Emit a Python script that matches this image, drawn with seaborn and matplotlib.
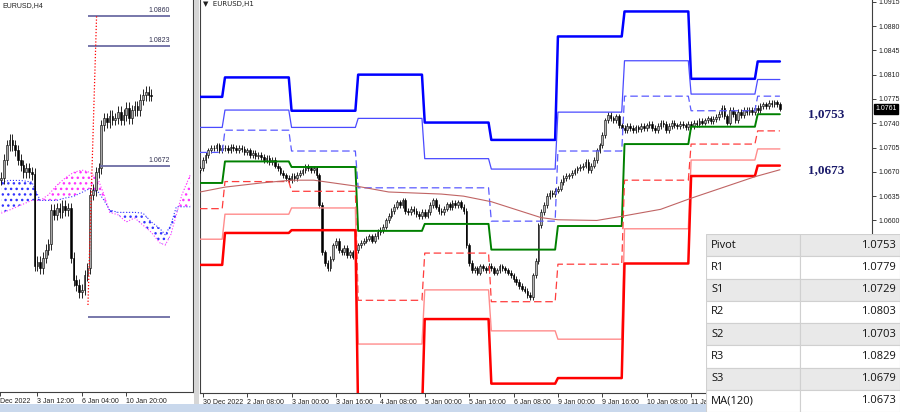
import numpy as np
import pandas as pd
import matplotlib
matplotlib.use("Agg")
import matplotlib.pyplot as plt
import matplotlib.transforms as mtrans
from matplotlib.patches import Rectangle
import seaborn as sns

sns.set_theme(style="white")
plt.rcParams['font.family'] = ['Liberation Sans', 'DejaVu Sans']

# ------------------------------------------------------------------ data
# H1 chart (bar 0 = 30 Dec 16:00, one bar per hour, weekend skipped)
H1_FIRST_BAR = -1
H1_CLOSE = [
    1.0675, 1.0687, 1.0694, 1.0701,
    1.0705, 1.0704, 1.0708, 1.0701, 1.0705, 1.0704,
    1.0701, 1.0706, 1.0704, 1.0701, 1.0705, 1.0703,
    1.0698, 1.0701, 1.0694, 1.0697, 1.0693, 1.0694,
    1.0691, 1.0687, 1.0690, 1.0684, 1.0687,
    1.0679, 1.0675, 1.0669, 1.0665, 1.0661,
    1.0658, 1.0664, 1.0661, 1.0666, 1.0669,
    1.0672, 1.0678, 1.0675, 1.0672, 1.0675,
    1.0665, 1.0622,
    1.0554,
    1.0539, 1.0531, 1.0545,
    1.0564, 1.0571, 1.0557, 1.0554,
    1.0560, 1.0550, 1.0554, 1.0548, 1.0557,
    1.0564, 1.0568, 1.0571, 1.0574, 1.0577,
    1.0571, 1.0578, 1.0583, 1.0586, 1.0591,
    1.0600, 1.0607, 1.0614, 1.0620, 1.0626,
    1.0622, 1.0629, 1.0614, 1.0612, 1.0617,
    1.0614, 1.0609, 1.0606, 1.0612, 1.0607,
    1.0612, 1.0622, 1.0629, 1.0620, 1.0614,
    1.0612, 1.0617, 1.0623, 1.0619, 1.0625,
    1.0622, 1.0626, 1.0620, 1.0614,
    1.0564,
    1.0539, 1.0528, 1.0531, 1.0525, 1.0534,
    1.0531, 1.0528, 1.0535, 1.0531, 1.0525,
    1.0528, 1.0534, 1.0531, 1.0528, 1.0525,
    1.0521, 1.0516, 1.0511, 1.0506, 1.0502,
    1.0499, 1.0493,
    1.0490, 1.0521, 1.0542, 1.0593, 1.0612, 1.0622, 1.0635, 1.0640, 1.0638, 1.0643,
    1.0646,
    1.0655, 1.0661, 1.0664, 1.0665,
    1.0669, 1.0672, 1.0675, 1.0677,
    1.0679, 1.0684, 1.0672, 1.0679,
    1.0687, 1.0701, 1.0708,
    1.0723, 1.0744, 1.0752,
    1.0747, 1.0744, 1.0750, 1.0737,
    1.0733, 1.0730, 1.0736, 1.0733, 1.0730,
    1.0734, 1.0731, 1.0736, 1.0733, 1.0737,
    1.0739, 1.0733, 1.0730, 1.0736, 1.0741,
    1.0739, 1.0730, 1.0736, 1.0740, 1.0737,
    1.0736, 1.0739, 1.0737, 1.0734, 1.0739,
    1.0736, 1.0740, 1.0739, 1.0743, 1.0741,
    1.0744, 1.0747, 1.0743, 1.0746, 1.0749,
    1.0753, 1.0762, 1.0750, 1.0741, 1.0759,
    1.0753, 1.0744, 1.0756, 1.0752, 1.0759,
    1.0756, 1.0759, 1.0756, 1.0762, 1.0759,
    1.0765, 1.0767, 1.0765, 1.0769, 1.0767,
    1.0770, 1.0767, 1.0761,
]
H1_TICK_BARS = [0, 16, 32, 48, 64, 80, 96, 112, 128, 144, 160, 176]
H1_TICK_LABELS = ["30 Dec 2022", "2 Jan 08:00", "3 Jan 00:00", "3 Jan 16:00",
                  "4 Jan 08:00", "5 Jan 00:00", "5 Jan 16:00", "6 Jan 08:00",
                  "9 Jan 00:00", "9 Jan 16:00", "10 Jan 08:00", "11 Jan 00:00"]
Y_TICKS = [1.0600, 1.0635, 1.0670, 1.0705, 1.0740, 1.0775, 1.0810, 1.0845,
           1.0880, 1.0915]
CURRENT_PRICE = 1.0761

# daily pivot levels (30 Dec, 2, 3, 4, 5, 6, 9, 10, 11, 12 Jan)
DAY_START = [-1, 8, 32, 56, 80, 104, 128, 152, 176, 200]
DAY_END = 208
R3 = [1.0778, 1.0806, 1.0758, 1.0810, 1.0741, 1.0716, 1.0865, 1.0901, 1.0804, 1.0829]
R2 = [1.0734, 1.0759, 1.0734, 1.0747, 1.0689, 1.0674, 1.0756, 1.0830, 1.0782, 1.0803]
R1 = [1.0698, 1.0730, 1.0700, 1.0647, 1.0647, 1.0599, 1.0700, 1.0779, 1.0758, 1.0779]
PIVOT = [1.0654, 1.0685, 1.0677, 1.0585, 1.0595, 1.0558, 1.0592, 1.0710, 1.0735, 1.0753]
S1 = [1.0617, 1.0656, 1.0642, 1.0485, 1.0553, 1.0483, 1.0537, 1.0658, 1.0710, 1.0729]
S2 = [1.0573, 1.0609, 1.0618, 1.0422, 1.0500, 1.0441, 1.0429, 1.0588, 1.0687, 1.0703]
S3 = [1.0536, 1.0582, 1.0586, 1.0320, 1.0458, 1.0365, 1.0373, 1.0538, 1.0664, 1.0679]

# MA(120) read at a few bars
MA_BARS = [-1, 8, 21, 32, 40, 56, 67, 86, 94, 104, 122, 128, 142, 151, 165, 176, 199, 208]
MA_VALUES = [1.0641, 1.0648, 1.0654, 1.0658, 1.0658, 1.0649, 1.0641, 1.0638, 1.0635,
             1.0627, 1.0604, 1.0601, 1.0600, 1.0606, 1.0616, 1.0632, 1.0663, 1.0673]

KEY_LABELS = ["1,0753", "1,0673"]
KEY_VALUES = [1.0753, 1.0673]

# H4 chart (bar 0 = 3 Jan 12:00)
H4_FIRST_BAR = -13
H4_CLOSE = [1.0657, 1.0680, 1.0698, 1.0705, 1.0698, 1.0692, 1.0680, 1.0673, 1.0664,
            1.0669, 1.0664, 1.0662, 1.0547, 1.0552, 1.0544, 1.0557, 1.0567, 1.0574,
            1.0617, 1.0611, 1.0619, 1.0614, 1.0622, 1.0617, 1.0619, 1.0557, 1.0529,
            1.0523, 1.0514, 1.0517, 1.0535, 1.0544, 1.0636, 1.0642, 1.0664, 1.0669,
            1.0723, 1.0732, 1.0727, 1.0735, 1.0730, 1.0732, 1.0740, 1.0730, 1.0736,
            1.0745, 1.0732, 1.0742, 1.0747, 1.0742, 1.0755, 1.0761, 1.0765, 1.0761,
            1.0760]
H4_TICK_BARS = [0, 16, 32]
H4_TICK_LABELS = ["3 Jan 12:00", "6 Jan 04:00", "10 Jan 20:00"]
CLOUD_BARS = [-13, -10, -6, -2, 1, 4, 7, 10, 13, 16, 19, 22, 24, 26, 29, 32, 35, 38,
              41, 44, 46, 48, 50, 52, 55]
SPAN_A = [1.0613, 1.0617, 1.0623, 1.0629, 1.0629, 1.0636, 1.0648, 1.0657, 1.0664,
          1.0667, 1.0664, 1.0654, 1.0636, 1.0614, 1.0611, 1.0602, 1.0607, 1.0598,
          1.0589, 1.0576, 1.0573, 1.0586, 1.0611, 1.0636, 1.0661]
SPAN_B = [1.0652, 1.0654, 1.0654, 1.0652, 1.0629, 1.0629, 1.0629, 1.0632, 1.0634,
          1.0639, 1.0644, 1.0639, 1.0629, 1.0617, 1.0614, 1.0614, 1.0614, 1.0613,
          1.0602, 1.0594, 1.0586, 1.0598, 1.0621, 1.0621, 1.0621]
FIB_LEVELS = [1.0860, 1.0823, 1.0672]
FIB_LABELS = ["1.0860", "1.0823", "1.0672"]
FIB_BASE = 1.0483
FIB_LOW = 1.0498

TABLE_LABELS = ["Pivot", "R1", "S1", "R2", "S2", "R3", "S3", "MA(120)"]
TABLE_VALUES = ["1.0753", "1.0779", "1.0729", "1.0803", "1.0703", "1.0829", "1.0679", "1.0673"]

# ------------------------------------------------------------------ figure
W, H = 900, 412
fig = plt.figure(figsize=(W / 100, H / 100), dpi=100)
fig.patch.set_facecolor("white")
TICK_FS = 5.0


def fx(px):
    return px / W


def draw_candles(ax, first, closes, width, wick, bull_color):
    c = np.asarray(closes, dtype=float)
    idx = np.arange(first, first + len(c))
    o = np.r_[c[0] - 0.0002, c[:-1]]
    hi = np.maximum(o, c) + wick
    lo = np.minimum(o, c) - wick
    ax.vlines(idx, lo, hi, color="black", lw=0.6, zorder=3)
    bull = c >= o
    hgt = np.maximum(np.abs(c - o), 0.00008)
    ax.bar(idx[bull], hgt[bull], bottom=np.minimum(o, c)[bull], width=width,
           color=bull_color, edgecolor="black", linewidth=0.4, zorder=4)
    ax.bar(idx[~bull], hgt[~bull], bottom=np.minimum(o, c)[~bull], width=width,
           color="black", edgecolor="black", linewidth=0.4, zorder=4)


# ---------------- left H4 panel
ax_l = fig.add_axes([0, 20 / H, fx(193), 392 / H])
ax_l.set_facecolor("white")
ax_l.set_xlim(-13.45, 56.0)
ax_l.set_ylim(1.0389, 1.0880)

plt.rcParams['hatch.linewidth'] = 1.0
cb = np.array(CLOUD_BARS)
sa = np.array(SPAN_A)
sb = np.array(SPAN_B)
ax_l.fill_between(cb, sa, sb, where=sa >= sb, interpolate=True, facecolor="none",
                  edgecolor="#ff33ff", hatch="...", linewidth=0, zorder=1)
ax_l.fill_between(cb, sa, sb, where=sa < sb, interpolate=True, facecolor="none",
                  edgecolor="#3333ff", hatch="...", linewidth=0, zorder=1)
sns.lineplot(x=cb, y=sa, ax=ax_l, color="#ff33ff", lw=0.8, linestyle=":", zorder=2)
sns.lineplot(x=cb, y=sb, ax=ax_l, color="#3333ff", lw=0.8, linestyle=":", zorder=2)

draw_candles(ax_l, H4_FIRST_BAR, H4_CLOSE, 0.6, 0.0007, "#a8a8a8")

fib_start, fib_end = 18.2, 47.7
for lvl, lab in zip(FIB_LEVELS, FIB_LABELS):
    start = fib_start if lvl > 1.07 else 22.5
    ax_l.hlines(lvl, start, fib_end, color="#6c6ca4", lw=1.3, zorder=5)
    ax_l.text(fib_end, lvl + 0.0002, lab, ha="right", va="bottom", fontsize=TICK_FS,
              color="#303050", zorder=6)
ax_l.hlines(FIB_BASE, fib_start, fib_end, color="#6c6ca4", lw=1.3, zorder=5)
ax_l.plot([fib_start, 21.3], [FIB_LOW, FIB_LEVELS[0]], color="red", lw=0.9,
          linestyle=(0, (1, 1.5)), zorder=5)

ax_l.set_xticks([-13.4] + H4_TICK_BARS)
ax_l.set_xticklabels(["Dec 2022"] + H4_TICK_LABELS)
for lbl in ax_l.get_xticklabels():
    lbl.set_ha("left")
ax_l.set_yticks([])
ax_l.tick_params(axis="x", bottom=True, length=3, width=0.6, pad=1.5, labelsize=TICK_FS,
                 colors="#202020")
for s in ["top", "left"]:
    ax_l.spines[s].set_visible(False)
for s in ["bottom", "right"]:
    ax_l.spines[s].set_color("#404040")
    ax_l.spines[s].set_linewidth(0.8)
ax_l.grid(False)
ax_l.set_xlabel("")
ax_l.set_ylabel("")
ax_l.text(0.01, 0.995, "EURUSD,H4", transform=ax_l.transAxes, ha="left", va="top",
          fontsize=TICK_FS, color="#202020")

# ---------------- main H1 panel
ax_m = fig.add_axes([fx(200), 19 / H, fx(672), 393 / H])
ax_m.set_facecolor("white")
ax_m.set_xlim(-1, 241.2)
ax_m.set_ylim(1.03515, 1.09175)

draw_candles(ax_m, H1_FIRST_BAR, H1_CLOSE, 0.6, 0.0004, "#b4b4b4")

lengths = np.diff(DAY_START + [DAY_END + 1])
bars = np.arange(DAY_START[0], DAY_END + 1)
level_styles = [
    (R3, "#0000ff", 1.8, "-"),
    (R2, "#4a4aff", 0.9, "-"),
    (R1, "#5a5aff", 0.9, (0, (6, 3))),
    (PIVOT, "#008000", 1.4, "-"),
    (S1, "#ff3c3c", 0.9, (0, (6, 3))),
    (S2, "#ff8c8c", 1.0, "-"),
    (S3, "#ff0000", 1.8, "-"),
]
for vals, col, lw, ls in level_styles:
    series = np.repeat(vals, lengths)
    sns.lineplot(x=bars, y=series, ax=ax_m, color=col, lw=lw, linestyle=ls, zorder=5)

sns.lineplot(x=MA_BARS, y=MA_VALUES, ax=ax_m, color="#c06464", lw=0.8, zorder=5)

for lab, val in zip(KEY_LABELS, KEY_VALUES):
    ax_m.text(224.6, val, lab, ha="center", va="center", fontsize=9.5,
              family="Liberation Serif", fontweight="bold", color="#1a1a6a", zorder=6)

ax_m.set_yticks(Y_TICKS)
ax_m.set_yticklabels([f"{v:.4f}" for v in Y_TICKS])
ax_m.yaxis.tick_right()
ax_m.tick_params(axis="y", right=True, left=False, length=3, width=0.6, pad=1.5,
                 labelsize=TICK_FS, colors="#202020")
ax_m.set_xticks(H1_TICK_BARS)
ax_m.set_xticklabels(H1_TICK_LABELS)
clip_bb = mtrans.TransformedBbox(mtrans.Bbox([[0, 0], [fx(706), 1]]), fig.transFigure)
for lbl in ax_m.get_xticklabels():
    lbl.set_ha("left")
    lbl.set_clip_on(True)
    lbl.set_clip_box(clip_bb)
ax_m.tick_params(axis="x", bottom=True, length=3, width=0.6, pad=1.5, labelsize=TICK_FS,
                 colors="#202020")
ax_m.spines["top"].set_visible(False)
for s in ["left", "bottom", "right"]:
    ax_m.spines[s].set_color("#404040")
    ax_m.spines[s].set_linewidth(0.8)
ax_m.grid(False)
ax_m.set_xlabel("")
ax_m.set_ylabel("")

trans = mtrans.blended_transform_factory(ax_m.transAxes, ax_m.transData)
ax_m.text(1.005, CURRENT_PRICE, f"{CURRENT_PRICE:.4f}", transform=trans, ha="left",
          va="center", fontsize=TICK_FS, color="white", clip_on=False, zorder=7,
          bbox=dict(boxstyle="square,pad=0.2", fc="black", ec="black"))
ax_m.text(0.004, 0.997, "\u25BC  EURUSD,H1", transform=ax_m.transAxes, ha="left",
          va="top", fontsize=TICK_FS, color="#202020", family=["DejaVu Sans"])

# separator and bottom strip
fig.patches.append(Rectangle((fx(194), 8 / H), fx(5), 1 - 8 / H, transform=fig.transFigure,
                             facecolor="#d6d6d6", edgecolor="none", zorder=0))
fig.patches.append(Rectangle((0, 0), fx(706), 8 / H, transform=fig.transFigure,
                             facecolor="#c9d8ec", edgecolor="none", zorder=0))

# ---------------- table
ax_t = fig.add_axes([fx(706), 0, fx(194), 178 / H])
ax_t.set_zorder(20)
ax_t.set_xlim(0, 194)
ax_t.set_ylim(178, 0)
ax_t.axis("off")
row_h = 178 / len(TABLE_LABELS)
for i, (lab, val) in enumerate(zip(TABLE_LABELS, TABLE_VALUES)):
    top = i * row_h
    fc = "#e9e9e9" if i % 2 == 0 else "#ffffff"
    ax_t.add_patch(Rectangle((0, top), 94, row_h, facecolor=fc, edgecolor="#d0d0d0", lw=0.8))
    ax_t.add_patch(Rectangle((94, top), 100, row_h, facecolor=fc, edgecolor="#d0d0d0", lw=0.8))
    ax_t.text(5, top + row_h / 2, lab, ha="left", va="center", fontsize=8,
              family="Open Sans", color="#101010")
    ax_t.text(190, top + row_h / 2, val, ha="right", va="center", fontsize=8,
              family="Open Sans", color="#101010")

fig.savefig("out.png", dpi=100)
